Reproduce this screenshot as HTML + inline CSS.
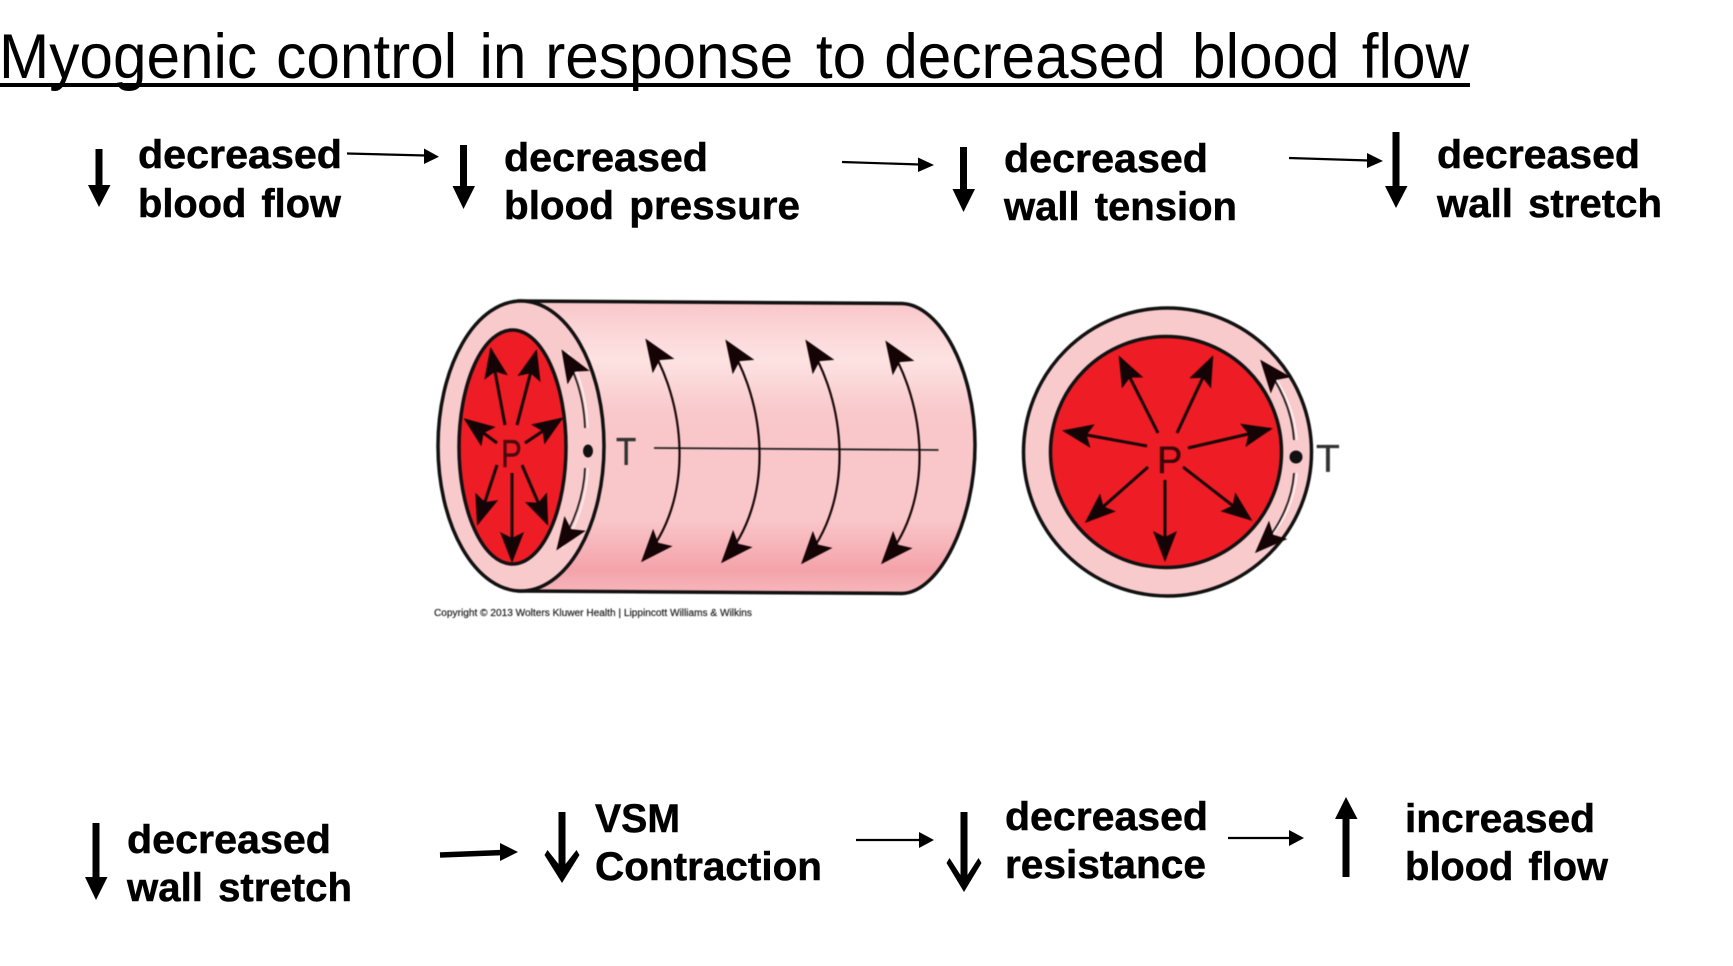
<!DOCTYPE html>
<html><head><meta charset="utf-8"><style>
html,body{margin:0;padding:0;background:#fff;width:1733px;height:966px;overflow:hidden}
svg{display:block}
text{font-family:"Liberation Sans",Arial,sans-serif}
.b{font-weight:bold;font-size:40px;fill:#000;stroke:#000;stroke-width:.5px;word-spacing:4px}
.d{filter:blur(.4px)}
</style></head><body>
<svg width="1733" height="966" viewBox="0 0 1733 966" xmlns="http://www.w3.org/2000/svg">
<defs>
<linearGradient id="g" x1="0" y1="0" x2="0" y2="1">
<stop offset="0" stop-color="#f9c5c8"/><stop offset=".08" stop-color="#fbd3d5"/><stop offset=".2" stop-color="#fde3e3"/><stop offset=".38" stop-color="#f9c8cb"/><stop offset=".75" stop-color="#f9c6c9"/><stop offset=".92" stop-color="#f4a3aa"/><stop offset="1" stop-color="#f7b7bc"/>
</linearGradient>
<marker id="h" markerUnits="userSpaceOnUse" markerWidth="44" markerHeight="36" refX="31" refY="18" orient="auto-start-reverse">
<path d="M34 18 L1 5 L8 18 L1 31 Z" fill="#150405"/></marker>
<marker id="m" markerUnits="userSpaceOnUse" markerWidth="40" markerHeight="32" refX="29" refY="16" orient="auto-start-reverse">
<path d="M32 16 L1 4 L7 16 L1 28 Z" fill="#150405"/></marker>
</defs>

<!-- title -->
<text font-size="63" fill="#000" transform="scale(.957,1)" y="78"><tspan x="-1">Myogenic</tspan> <tspan x="288.600">control</tspan> <tspan x="501">in</tspan> <tspan x="569.700">response</tspan> <tspan x="852.500">to</tspan> <tspan x="924">decreased</tspan> <tspan x="1245.600">blood</tspan> <tspan x="1423">flow</tspan></text>
<rect x="0" y="83" width="1470" height="4" fill="#000"/>

<!-- top text -->
<text class="b" x="138" y="168" textLength="204" lengthAdjust="spacingAndGlyphs">decreased</text>
<text class="b" x="138" y="217" textLength="203" lengthAdjust="spacingAndGlyphs">blood flow</text>
<text class="b" x="504" y="171" textLength="204" lengthAdjust="spacingAndGlyphs">decreased</text>
<text class="b" x="504" y="219" textLength="296" lengthAdjust="spacingAndGlyphs">blood pressure</text>
<text class="b" x="1004" y="172" textLength="204" lengthAdjust="spacingAndGlyphs">decreased</text>
<text class="b" x="1004" y="220" textLength="233" lengthAdjust="spacingAndGlyphs">wall tension</text>
<text class="b" x="1437" y="168" textLength="203" lengthAdjust="spacingAndGlyphs">decreased</text>
<text class="b" x="1437" y="217" textLength="225" lengthAdjust="spacingAndGlyphs">wall stretch</text>

<!-- bottom text -->
<text class="b" x="127" y="853" textLength="204" lengthAdjust="spacingAndGlyphs">decreased</text>
<text class="b" x="127" y="901" textLength="225" lengthAdjust="spacingAndGlyphs">wall stretch</text>
<text class="b" x="595" y="832" textLength="85" lengthAdjust="spacingAndGlyphs">VSM</text>
<text class="b" x="595" y="880" textLength="227" lengthAdjust="spacingAndGlyphs">Contraction</text>
<text class="b" x="1005" y="830" textLength="203" lengthAdjust="spacingAndGlyphs">decreased</text>
<text class="b" x="1005" y="878" textLength="201" lengthAdjust="spacingAndGlyphs">resistance</text>
<text class="b" x="1405" y="832" textLength="190" lengthAdjust="spacingAndGlyphs">increased</text>
<text class="b" x="1405" y="880" textLength="203" lengthAdjust="spacingAndGlyphs">blood flow</text>

<!-- black process arrows -->
<g fill="#000" stroke="none">
<path d="M95.500 149h7v36h8l-11.500 22l-11-22h7.500z"/>
<path d="M460 145h7v41h8l-11.500 23l-11-23h7.500z"/>
<path d="M960 147h7v42h8l-11.500 23l-11-23h7.500z"/>
<path d="M1392.500 132h7v54h8l-11.500 22l-11-22h7.500z"/>
<path d="M92.500 823h7v54h8l-11.500 23l-11-23h7.500z"/>
<path d="M1342.500 877h7v-58h8l-11.500-22l-11 22h7.500z"/>
<path d="M558.500 812h7v52l11-14l3 5l-17.500 28l-17.500-28l3-5l11 14z"/>
<path d="M960.500 812h7v63l11-17l3 5l-17.500 29l-17.500-29l3-5l11 17z"/>
<path d="M424 148.500L439 156.700L424 164z"/>
<path d="M918 157.500L934 165L918 172z"/>
<path d="M1367 153L1383 161L1367 168z"/>
<path d="M500 843L518 852L500 861z"/>
<path d="M919 832L934 840L919 848z"/>
<path d="M1289 830L1304 838L1289 846z"/>
</g>
<g stroke="#000" fill="none">
<path d="M347 153.500L426 155.500" stroke-width="2.200"/>
<path d="M842 162L920 164.500" stroke-width="2.200"/>
<path d="M1289 158L1369 160.500" stroke-width="2.200"/>
<path d="M440 855L503 852.500" stroke-width="5.500"/>
<path d="M856 840L921 840" stroke-width="2.200"/>
<path d="M1228 838L1291 838" stroke-width="2.200"/>
</g>

<g class="d">
<!-- cylinder -->
<path d="M519 301L902 303.500C940 305 975 370 975 445C975 520 940 592 902 593.500L519 591Z" fill="url(#g)" stroke="#111" stroke-width="3.500"/>
<ellipse cx="521" cy="446" rx="83" ry="145" fill="#f9cacc" stroke="#111" stroke-width="3.500"/>
<ellipse cx="512.500" cy="447" rx="53.500" ry="117" fill="#ee1c25" stroke="#111" stroke-width="3.500"/>
<g stroke="#150405" stroke-width="3" fill="none">
<path d="M505 425L491 350" marker-end="url(#m)"/>
<path d="M517 425L536 352" marker-end="url(#m)"/>
<path d="M497 443L466 420" marker-end="url(#m)"/>
<path d="M525 443L561 419" marker-end="url(#m)"/>
<path d="M497 465L478 523" marker-end="url(#m)"/>
<path d="M512 473L512 560" marker-end="url(#m)"/>
<path d="M522 465L547 523" marker-end="url(#m)"/>
</g>
<text transform="translate(501,467) scale(.8,1)" font-size="39" fill="#4a0a0e" stroke="#4a0a0e" stroke-width=".4">P</text>
<!-- front wall arcs -->
<g fill="none" stroke="#fff" stroke-width="1.500" opacity=".7">
<path d="M588 428C587 400 580 375 568 352"/><path d="M588 468C587 495 578 525 562 548"/>
</g>
<g fill="none" stroke="#222" stroke-width="1.800">
<path d="M585 428C584 400 577 375 563 352" marker-end="url(#h)"/>
<path d="M585 468C584 495 574 525 558 548" marker-end="url(#h)"/>
</g>
<ellipse cx="588" cy="451" rx="5" ry="6.500" fill="#111"/>
<text transform="translate(616,465) scale(.85,1)" font-size="39" fill="#333" stroke="#333" stroke-width=".4">T</text>
<path d="M654 448L938.500 450" stroke="#222" stroke-width="1.800" fill="none"/>
<g fill="none" stroke="#1a0a0a" stroke-width="2.200">
<path d="M647 341C686 400 696 500 643 560" marker-start="url(#h)" marker-end="url(#h)"/>
<path d="M727 342C766 401 776 501 723 561" marker-start="url(#h)" marker-end="url(#h)"/>
<path d="M807 342C846 401 856 501 803 562" marker-start="url(#h)" marker-end="url(#h)"/>
<path d="M887 343C926 402 936 502 883 562" marker-start="url(#h)" marker-end="url(#h)"/>
</g>
<text x="434" y="616" font-size="10" fill="#222" stroke="#222" stroke-width=".2" textLength="318" lengthAdjust="spacingAndGlyphs">Copyright © 2013 Wolters Kluwer Health | Lippincott Williams &amp; Wilkins</text>

<!-- circle -->
<circle cx="1167.500" cy="452" r="144" fill="#f9cacc" stroke="#111" stroke-width="3.500"/>
<circle cx="1166" cy="452" r="115.500" fill="#ee1c25" stroke="#111" stroke-width="3.500"/>
<g stroke="#150405" stroke-width="3" fill="none">
<path d="M1158 433L1120 358" marker-end="url(#m)"/>
<path d="M1177 433L1212 358" marker-end="url(#m)"/>
<path d="M1147 446L1065 431" marker-end="url(#m)"/>
<path d="M1188 448L1270 429" marker-end="url(#m)"/>
<path d="M1148 467L1087 521" marker-end="url(#m)"/>
<path d="M1165 480L1165 559" marker-end="url(#m)"/>
<path d="M1183 467L1250 519" marker-end="url(#m)"/>
</g>
<text x="1157" y="473" font-size="38" fill="#3a0508" stroke="#3a0508" stroke-width=".4">P</text>
<g fill="none" stroke="#fff" stroke-width="1.500" opacity=".8">
<path d="M1297 440C1295 412 1283 385 1266 366"/><path d="M1297 473C1295 500 1284 522 1266 543"/>
</g>
<g fill="none" stroke="#222" stroke-width="1.800">
<path d="M1294 440C1292 410 1279 383 1262 362" marker-end="url(#h)"/>
<path d="M1294 473C1292 502 1278 530 1257 551" marker-end="url(#h)"/>
</g>
<circle cx="1296" cy="457" r="6.500" fill="#111"/>
<text x="1316" y="472" font-size="39" fill="#333" stroke="#333" stroke-width=".3">T</text>
</g>
</svg>
</body></html>
